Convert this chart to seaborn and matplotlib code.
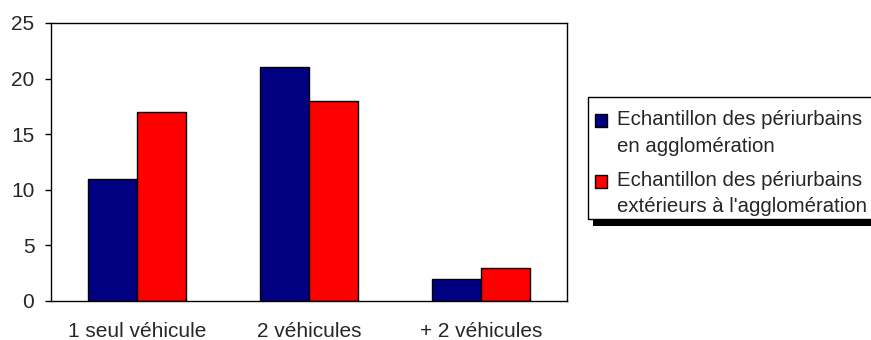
import matplotlib.pyplot as plt
import pandas as pd
import seaborn as sns
from matplotlib.legend_handler import HandlerPatch
from matplotlib.patches import Rectangle

# %% Data
categories = ["1 seul véhicule", "2 véhicules", "+ 2 véhicules"]
series_names = [
    "Echantillon des périurbains\nen agglomération",
    "Echantillon des périurbains\nextérieurs à l'agglomération",
]
agglo_values = [11, 21, 2]
exterieur_values = [17, 18, 3]
y_ticks = [0, 5, 10, 15, 20, 25]

df = pd.DataFrame(
    {
        "categorie": categories * 2,
        "serie": [series_names[0]] * 3 + [series_names[1]] * 3,
        "valeur": agglo_values + exterieur_values,
    }
)

# %% Style
sns.set_style("white")
plt.rcParams["font.family"] = ["Liberation Sans", "DejaVu Sans"]
FS = 15
LEG_FS = 14.7
W, H = 871, 340

fig = plt.figure(figsize=(W / 100, H / 100), dpi=100)
ax = fig.add_axes([51 / W, 1 - 301 / H, (567 - 51) / W, (301 - 23) / H])

sns.barplot(
    data=df,
    x="categorie",
    y="valeur",
    hue="serie",
    palette=["#000080", "#ff0000"],
    width=0.57,
    gap=0,
    edgecolor="black",
    linewidth=1,
    saturation=1,
    ax=ax,
)

ax.set_ylim(0, 25)
ax.set_yticks(y_ticks)
ax.set_xlabel("")
ax.set_ylabel("")
ax.tick_params(axis="y", length=4, width=1, color="black", labelsize=FS, pad=8, direction="out", left=True)
ax.tick_params(axis="x", length=0, labelsize=FS, pad=15)
for s in ax.spines.values():
    s.set_color("black")
    s.set_linewidth(1)


# square marker sitting on the first line of each two-line label
def top_square(legend, orig_handle, xdescent, ydescent, width, height, fontsize):
    return Rectangle((-xdescent, -ydescent + 0.62 * fontsize), width, height)


handles, labels = ax.get_legend_handles_labels()
ax.get_legend().remove()
leg = fig.legend(
    handles,
    labels,
    loc="upper left",
    bbox_to_anchor=(595 / W, 1 - 110 / H),
    frameon=False,
    fontsize=LEG_FS,
    handlelength=0.6,
    handleheight=0.6,
    handletextpad=0.5,
    borderpad=0,
    labelspacing=0.75,
    borderaxespad=0,
    handler_map={Rectangle: HandlerPatch(patch_func=top_square)},
)
for t in leg.get_texts():
    t.set_linespacing(1.5)
for h in leg.legend_handles:
    h.set_linewidth(1)
    h.set_edgecolor("black")

# legend box (Excel style: white box, thin border, hard black drop shadow)
fig.canvas.draw()
bb = leg.get_window_extent()
box_x0 = 588
box_top = H - 97
box_y0 = bb.y0 - 3
box_w = bb.x1 + 8 - box_x0
box_h = box_top - box_y0
shadow = Rectangle((box_x0 + 5, box_y0 - 7), box_w, box_h, transform=None,
                   facecolor="black", edgecolor="none", zorder=4.8)
frame = Rectangle((box_x0, box_y0), box_w, box_h, transform=None,
                  facecolor="white", edgecolor="black", linewidth=1, zorder=4.9)
fig.patches.extend([shadow, frame])

fig.savefig("out.png", dpi=100)
